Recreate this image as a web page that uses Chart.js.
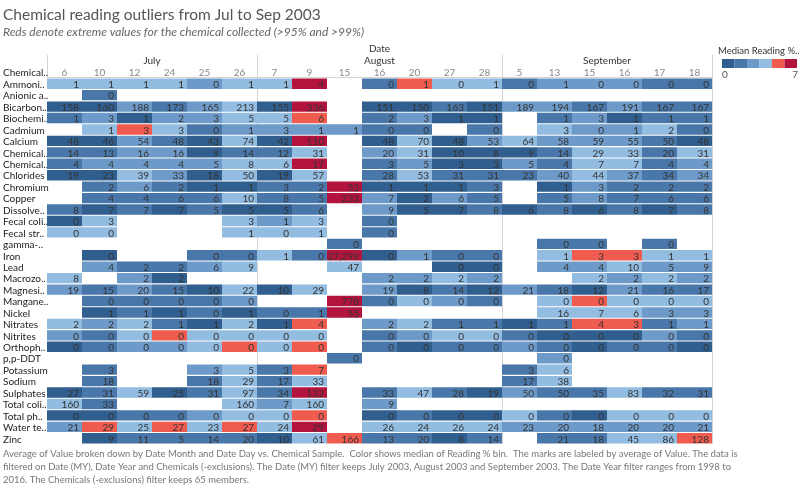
<!DOCTYPE html>
<html>
<head>
<meta charset="utf-8">
<script src="https://cdn.jsdelivr.net/npm/chart.js@4.4.0/dist/chart.umd.min.js"></script>
<style>
  html, body { margin: 0; padding: 0; background: #fff; }
</style>
</head>
<body>
<canvas id="heat" width="800" height="487"></canvas>
<script>
const _ = null;

const chemicals = ["Ammoni..", "Anionic a..", "Bicarbon..", "Biochemi..", "Cadmium", "Calcium",
  "Chemical..", "Chemical..", "Chlorides", "Chromium", "Copper", "Dissolve..", "Fecal coli..",
  "Fecal str..", "gamma-..", "Iron", "Lead", "Macrozo..", "Magnesi..", "Mangane..", "Nickel",
  "Nitrates", "Nitrites", "Orthoph..", "p,p-DDT", "Potassium", "Sodium", "Sulphates",
  "Total coli..", "Total ph..", "Water te..", "Zinc"];

const months = ["July", "August", "September"];
const monthSpans = [6, 7, 6];
const days = ["6", "10", "12", "24", "25", "26", "7", "9", "15", "16", "20", "27", "28",
  "5", "13", "15", "16", "17", "18"];

// average value per chemical (rows) and date (columns)
const values = [
  [1, 1, 1, 1, 0, 1, 1, 4, _, 0, 1, 0, 1, 0, 1, 0, 0, 0, 0],
  [_, 0, _, _, _, _, _, _, _, _, _, _, _, _, _, _, _, _, _],
  [158, 160, 188, 173, 165, 213, 155, 336, _, 151, 150, 163, 151, 189, 194, 167, 191, 167, 167],
  [1, 3, 1, 2, 3, 5, 5, 6, _, 2, 3, 1, 1, _, 1, 3, 1, 1, 1],
  [_, 1, 3, 3, 0, 1, 3, 1, 1, 0, 0, _, 0, _, 3, 0, 1, 2, 0],
  [48, 46, 54, 48, 43, 74, 42, 110, _, 48, 70, 48, 53, 64, 58, 59, 55, 50, 48],
  [14, 13, 16, 16, 9, 14, 12, 31, _, 20, 31, 10, 8, 9, 14, 29, 33, 20, 31],
  [4, 4, 4, 4, 5, 8, 6, 17, _, 3, 5, 3, 3, 5, 4, 7, 7, 4, 4],
  [19, 23, 39, 33, 18, 50, 19, 57, _, 28, 53, 31, 31, 23, 40, 44, 37, 34, 34],
  [_, 2, 6, 2, 1, 1, 3, 2, 53, 1, 1, 1, 3, _, 1, 3, 2, 2, 2],
  [_, 4, 4, 6, 6, 10, 8, 5, 233, 7, 2, 6, 5, _, 5, 8, 7, 6, 6],
  [8, 7, 7, 7, 5, 5, 5, 6, _, 9, 5, 7, 8, 6, 8, 6, 8, 7, 8],
  [0, 3, _, _, _, 3, 1, 3, _, 0, _, _, _, _, _, _, _, _, _],
  [0, 0, _, _, _, 1, 0, 1, _, 0, _, _, _, _, _, _, _, _, _],
  [_, _, _, _, _, _, _, _, 0, _, _, _, _, _, 0, 0, _, 0, _],
  [_, 0, _, _, 0, 0, 1, 0, 27299, 0, 1, 0, 0, _, 1, 3, 3, 1, 1],
  [_, 4, 2, 2, 6, 9, _, _, 47, _, _, 0, 0, _, 4, 4, 10, 5, 9],
  [8, _, 2, 2, _, _, _, _, _, 2, 2, 2, 2, _, _, 2, 2, 2, 2],
  [19, 15, 20, 15, 10, 22, 10, 29, _, 19, 8, 14, 12, 21, 18, 12, 21, 16, 17],
  [_, 0, 0, 0, 0, 0, _, _, 778, 0, 0, 0, 0, _, 0, 0, 0, 0, 0],
  [_, 1, 1, 1, 0, 1, 0, 1, 55, _, _, _, _, _, 16, 7, 6, 3, 3],
  [2, 2, 2, 1, 1, 2, 1, 4, _, 2, 2, 1, 1, 1, 1, 4, 3, 1, 1],
  [0, 0, 0, 0, 0, 0, 0, 0, _, 0, 0, 0, 0, 0, 0, 0, 0, 0, 0],
  [0, 0, 0, 0, 0, 0, 0, 0, _, 0, 0, 0, 0, 0, 0, 0, 0, 0, 0],
  [_, _, _, _, _, _, _, _, 0, _, _, _, _, _, 0, _, _, _, _],
  [_, 3, _, _, 3, 5, 3, 7, _, _, _, _, _, 3, 6, _, _, _, _],
  [_, 18, _, _, 18, 29, 17, 33, _, _, _, _, _, 17, 38, _, _, _, _],
  [27, 31, 59, 25, 31, 97, 34, 132, _, 33, 47, 28, 19, 50, 50, 35, 83, 32, 31],
  [160, 33, _, _, _, 160, 7, 160, _, 9, _, _, _, _, _, _, _, _, _],
  [0, 0, 0, 0, 0, 0, 0, 0, _, 0, 0, 0, 0, 0, 0, 0, 0, 0, 0],
  [21, 29, 25, 27, 23, 27, 24, 29, _, 26, 24, 26, 24, 23, 20, 18, 20, 20, 21],
  [_, 9, 11, 5, 14, 20, 10, 61, 166, 13, 20, 8, 14, _, 21, 18, 45, 86, 128]
];

// median reading % bin, as colour step 0..5 (dark blue .. crimson)
const bins = [
  [3, 3, 3, 3, 2, 3, 3, 5, _, 1, 4, 3, 3, 1, 2, 2, 2, 1, 1],
  [_, 1, _, _, _, _, _, _, _, _, _, _, _, _, _, _, _, _, _],
  [0, 0, 2, 1, 2, 3, 0, 5, _, 0, 0, 1, 0, 2, 2, 1, 2, 1, 1],
  [1, 2, 0, 2, 2, 3, 3, 4, _, 1, 2, 0, 0, _, 1, 2, 0, 1, 1],
  [_, 3, 4, 3, 1, 2, 2, 2, 2, 1, 1, _, 1, _, 3, 2, 2, 3, 1],
  [0, 0, 2, 1, 0, 3, 0, 5, _, 0, 3, 0, 2, 3, 2, 2, 2, 1, 0],
  [1, 1, 2, 2, 0, 1, 1, 3, _, 2, 3, 0, 0, 0, 1, 3, 3, 1, 3],
  [1, 2, 2, 2, 2, 3, 3, 5, _, 1, 2, 0, 0, 2, 1, 3, 3, 1, 2],
  [0, 0, 3, 2, 0, 3, 0, 3, _, 1, 3, 1, 1, 1, 2, 3, 2, 1, 2],
  [_, 1, 2, 1, 0, 0, 1, 1, 5, 0, 0, 0, 1, _, 0, 2, 1, 1, 1],
  [_, 1, 1, 1, 1, 3, 1, 1, 5, 2, 0, 2, 1, _, 1, 2, 1, 1, 1],
  [1, 0, 1, 0, 1, 0, 0, 1, _, 2, 0, 0, 1, 0, 1, 0, 1, 0, 1],
  [0, 3, _, _, _, 3, 2, 3, _, 1, _, _, _, _, _, _, _, _, _],
  [3, 3, _, _, _, 3, 3, 3, _, 1, _, _, _, _, _, _, _, _, _],
  [_, _, _, _, _, _, _, _, 1, _, _, _, _, _, 1, 1, _, 1, _],
  [_, 0, _, _, 1, 1, 3, 1, 5, 0, 2, 1, 1, _, 3, 4, 4, 3, 3],
  [_, 2, 1, 1, 2, 3, _, _, 3, _, _, 0, 0, _, 2, 2, 3, 2, 2],
  [3, _, 2, 0, _, _, _, _, _, 2, 2, 3, 2, _, _, 3, 2, 3, 2],
  [2, 1, 2, 1, 0, 3, 0, 3, _, 2, 0, 1, 0, 2, 1, 0, 2, 1, 1],
  [_, 1, 1, 1, 1, 2, _, _, 5, 1, 3, 2, 1, _, 3, 4, 3, 3, 3],
  [_, 0, 1, 0, 1, 0, 1, 1, 5, _, _, _, _, _, 3, 3, 3, 2, 2],
  [3, 2, 3, 1, 0, 3, 0, 4, _, 2, 3, 1, 1, 0, 1, 4, 4, 1, 2],
  [2, 1, 3, 4, 3, 3, 3, 3, _, 1, 2, 3, 3, 1, 0, 0, 0, 2, 1],
  [0, 1, 2, 2, 3, 4, 3, 4, _, 1, 0, 1, 1, 2, 1, 0, 1, 1, 0],
  [_, _, _, _, _, _, _, _, 1, _, _, _, _, _, 2, _, _, _, _],
  [_, 1, _, _, 2, 3, 1, 4, _, _, _, _, _, 1, 3, _, _, _, _],
  [_, 1, _, _, 1, 3, 1, 3, _, _, _, _, _, 1, 3, _, _, _, _],
  [0, 1, 3, 0, 1, 3, 1, 5, _, 1, 3, 1, 0, 2, 1, 1, 3, 1, 1],
  [3, 1, _, _, _, 3, 2, 3, _, 2, _, _, _, _, _, _, _, _, _],
  [0, 0, 1, 1, 2, 3, 3, 4, _, 0, 1, 0, 0, 3, 1, 0, 3, 3, 3],
  [2, 4, 3, 4, 3, 4, 3, 5, _, 3, 3, 3, 3, 2, 2, 2, 2, 2, 2],
  [_, 0, 1, 1, 1, 1, 0, 3, 4, 1, 1, 0, 1, _, 1, 1, 3, 3, 4]
];

const binColors = ["#305e8e", "#4977a9", "#6d9ac8", "#93bce1", "#ef5b4f", "#b3143e"];

const footLines = [
  "Average of Value broken down by Date Month and Date Day vs. Chemical Sample.  Color shows median of Reading % bin.  The marks are labeled by average of Value. The data is",
  "filtered on Date (MY), Date Year and Chemicals (-exclusions). The Date (MY) filter keeps July 2003, August 2003 and September 2003. The Date Year filter ranges from 1998 to",
  "2016. The Chemicals (-exclusions) filter keeps 65 members."
];

const FONT = "Lato, 'Open Sans', sans-serif";

const datasets = days.map(function (d, c) {
  return {
    label: d,
    data: chemicals.map(function (ch, r) { return values[r][c] === null ? null : [c, c + 1]; }),
    backgroundColor: chemicals.map(function (ch, r) {
      return bins[r][c] === null ? "rgba(0,0,0,0)" : binColors[bins[r][c]];
    }),
    borderWidth: 0,
    barPercentage: 0.91,
    categoryPercentage: 1
  };
});

const decor = {
  id: "decor",
  beforeDatasetsDraw: function (chart) {
    const ctx = chart.ctx;
    const xs = chart.scales.x;
    const ys = chart.scales.y;
    const area = chart.chartArea;
    ctx.save();

    // title and subtitle
    ctx.textBaseline = "alphabetic";
    ctx.textAlign = "left";
    ctx.fillStyle = "#555";
    ctx.font = "15.5px " + FONT;
    ctx.fillText("Chemical reading outliers from Jul to Sep 2003", 3, 20);
    ctx.fillStyle = "#666";
    ctx.font = "italic 12px " + FONT;
    ctx.fillText("Reds denote extreme values for the chemical collected (>95% and >99%)", 3, 36);

    // header lines
    ctx.strokeStyle = "#d4d4d4";
    ctx.lineWidth = 1;
    const topY = 55;
    [0, 6, 13, 19].forEach(function (v) {
      const px = Math.round(xs.getPixelForValue(v)) + 0.5;
      ctx.beginPath();
      ctx.moveTo(px, topY);
      ctx.lineTo(px, v === 0 ? area.top : area.bottom);
      ctx.stroke();
    });
    ctx.beginPath();
    ctx.moveTo(xs.getPixelForValue(0), Math.round(area.top) - 0.5);
    ctx.lineTo(xs.getPixelForValue(19), Math.round(area.top) - 0.5);
    ctx.stroke();

    // month headers
    ctx.textAlign = "center";
    ctx.fillStyle = "#333";
    ctx.font = "10px " + FONT;
    let start = 0;
    months.forEach(function (m, i) {
      const cx = (xs.getPixelForValue(start) + xs.getPixelForValue(start + monthSpans[i])) / 2;
      ctx.fillText(m, cx, 64);
      if (m === "August") ctx.fillText("Date", cx, 52);
      start += monthSpans[i];
    });

    // day headers
    ctx.fillStyle = "#888";
    days.forEach(function (d, c) {
      ctx.fillText(d, xs.getPixelForValue(c + 0.5), 76);
    });

    // row headers
    ctx.textAlign = "left";
    ctx.fillStyle = "#222";
    ctx.fillText("Chemical..", 3, 76);
    ctx.textBaseline = "middle";
    chemicals.forEach(function (ch, r) {
      ctx.fillText(ch, 3, ys.getPixelForValue(r) + 1);
    });

    // legend
    ctx.textBaseline = "alphabetic";
    ctx.fillStyle = "#333";
    ctx.font = "9.5px " + FONT;
    ctx.fillText("Median Reading %..", 718, 54);
    const lw = 75 / binColors.length;
    binColors.forEach(function (col, i) {
      ctx.fillStyle = col;
      ctx.fillRect(722 + i * lw, 59, lw, 9);
    });
    ctx.fillStyle = "#555";
    ctx.font = "10px " + FONT;
    ctx.fillText("0", 722, 78);
    ctx.textAlign = "right";
    ctx.fillText("7", 798, 78);

    // footer
    ctx.textAlign = "left";
    ctx.fillStyle = "#777";
    ctx.font = "9.5px " + FONT;
    footLines.forEach(function (t, i) {
      ctx.fillText(t, 3, 457 + i * 13);
    });
    ctx.restore();
  },
  afterDatasetsDraw: function (chart) {
    const ctx = chart.ctx;
    ctx.save();
    ctx.font = "10px " + FONT;
    ctx.fillStyle = "#333";
    ctx.textAlign = "right";
    ctx.textBaseline = "middle";
    chart.data.datasets.forEach(function (ds, c) {
      const meta = chart.getDatasetMeta(c);
      meta.data.forEach(function (el, r) {
        const v = values[r][c];
        if (v === null) return;
        const right = Math.max(el.x, el.base);
        ctx.fillText(v.toLocaleString("en-US"), right - 3, el.y + 1);
      });
    });
    ctx.restore();
  }
};

new Chart(document.getElementById("heat"), {
  type: "bar",
  data: { labels: chemicals, datasets: datasets },
  options: {
    indexAxis: "y",
    responsive: false,
    animation: false,
    devicePixelRatio: 1,
    layout: { padding: { left: 47, right: 88, top: 78, bottom: 43 } },
    scales: {
      x: { type: "linear", min: 0, max: 19, display: false },
      y: { type: "category", display: false }
    },
    datasets: { bar: { grouped: false } },
    plugins: { legend: { display: false }, tooltip: { enabled: false } }
  },
  plugins: [decor]
});
</script>
</body>
</html>
